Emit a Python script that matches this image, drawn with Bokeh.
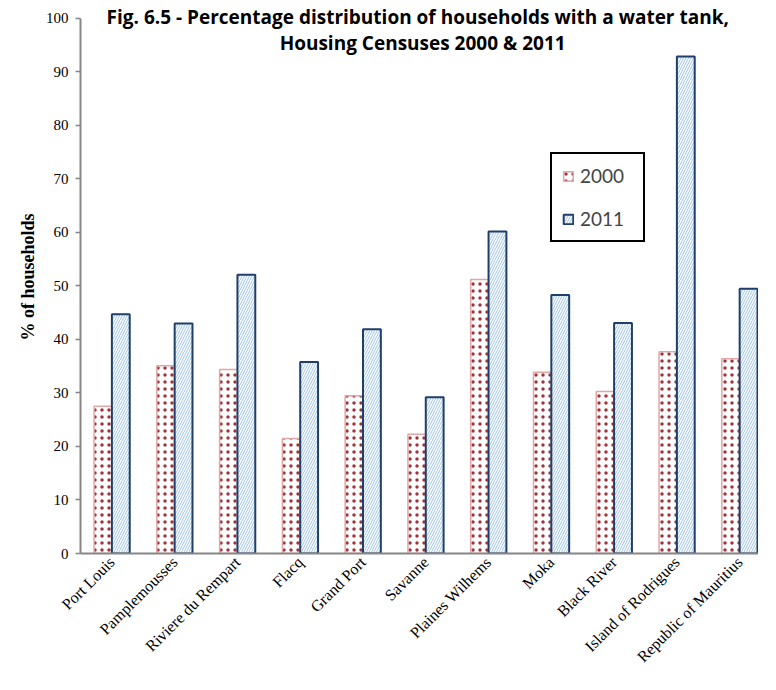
import numpy as np
from bokeh.plotting import figure
from bokeh.models import ColumnDataSource, Range1d, FixedTicker, Label, Legend, LegendItem
from bokeh.transform import dodge
from bokeh.embed import file_html
from bokeh.resources import INLINE

categories = ["Port Louis", "Pamplemousses", "Riviere du Rempart", "Flacq", "Grand Port",
              "Savanne", "Plaines Wilhems", "Moka", "Black River", "Island of Rodrigues",
              "Republic of Mauritius"]
v2000 = [27.5, 35.1, 34.4, 21.5, 29.5, 22.3, 51.2, 33.9, 30.3, 37.7, 36.4]
v2011 = [44.7, 43.0, 52.1, 35.8, 41.9, 29.2, 60.2, 48.3, 43.1, 92.9, 49.5]
y_ticks = [0, 10, 20, 30, 40, 50, 60, 70, 80, 90, 100]
series_names = ["2000", "2011"]
title_lines = ["Fig. 6.5 - Percentage  distribution of  households with a water tank,",
               "Housing Censuses 2000 & 2011"]

xpos = list(np.arange(len(categories)) + 0.5)
src = ColumnDataSource(dict(x=xpos, cat=categories, v2000=v2000, v2011=v2011))

p = figure(width=758, height=674, output_backend="svg", toolbar_location=None,
           x_range=Range1d(0, 10.8), y_range=Range1d(0, 103.36),
           min_border_left=80, min_border_top=0, min_border_right=0, min_border_bottom=121)
p.styles = {"box-shadow": "-2px -2px 0 0 #a6a6a6"}
p.outline_line_color = None
p.grid.visible = False
p.background_fill_color = "white"
p.border_fill_color = "white"

bw = 0.284
r1 = p.vbar(x=dodge("x", -0.142, range=p.x_range), top="v2000", width=bw, bottom=0, source=src,
            fill_color="white", line_color="#E3A5A5", line_width=1.5,
            hatch_pattern="dot", hatch_color="#A0323A", hatch_scale=7, hatch_weight=10)
r2 = p.vbar(x=dodge("x", 0.142, range=p.x_range), top="v2011", width=bw, bottom=0, source=src,
            fill_color="white", line_color="#1F3F6A", line_width=2,
            hatch_pattern="right_diagonal_line", hatch_color="#9DC3E6", hatch_scale=5, hatch_weight=1)

# axes
p.xaxis.ticker = FixedTicker(ticks=xpos)
p.xaxis.major_label_overrides = {float(x): c for x, c in zip(xpos, categories)}
p.xaxis.major_label_orientation = np.pi / 4
p.xaxis.major_tick_line_color = None
p.xaxis.minor_tick_line_color = None
p.xaxis.axis_line_color = "#868686"
p.xaxis.axis_line_width = 2
p.xaxis.major_label_text_font = "Liberation Serif"
p.xaxis.major_label_text_font_size = "16px"
p.xaxis.major_label_text_color = "black"
p.xaxis.major_label_standoff = 0

p.yaxis.ticker = FixedTicker(ticks=y_ticks)
p.yaxis.bounds = (0, 100)
p.yaxis.minor_tick_line_color = None
p.yaxis.axis_line_color = "#868686"
p.yaxis.axis_line_width = 2
p.yaxis.major_tick_line_color = "#868686"
p.yaxis.major_tick_line_width = 1.5
p.yaxis.major_tick_out = 5
p.yaxis.major_tick_in = 0
p.yaxis.major_label_standoff = 7
p.yaxis.major_label_text_font = "Liberation Serif"
p.yaxis.major_label_text_font_size = "15px"
p.yaxis.major_label_text_color = "black"
p.yaxis.axis_label = "% of households"
p.yaxis.axis_label_text_font = "Liberation Serif"
p.yaxis.axis_label_text_font_style = "bold"
p.yaxis.axis_label_text_font_size = "18px"
p.yaxis.axis_label_text_color = "black"
p.yaxis.axis_label_standoff = 5

# title inside the plot
for line, yv in zip(title_lines, [100.2, 95.5]):
    p.add_layout(Label(x=5.45, y=yv, text=line, text_align="center", text_baseline="middle",
                       text_font="Open Sans", text_font_style="bold", text_font_size="19px",
                       text_color="black"))

legend = Legend(items=[LegendItem(label=series_names[0], renderers=[r1]),
                       LegendItem(label=series_names[1], renderers=[r2])],
                location=(470, 311), border_line_color="black", border_line_width=2,
                border_line_alpha=1.0,
                background_fill_alpha=1, label_text_font="Lato", label_text_font_size="19px",
                glyph_width=12, glyph_height=12, label_height=20, label_width=53,
                spacing=20, padding=10, label_standoff=6, margin=0)
p.add_layout(legend)

open("out.html", "w").write(file_html(p, INLINE))
